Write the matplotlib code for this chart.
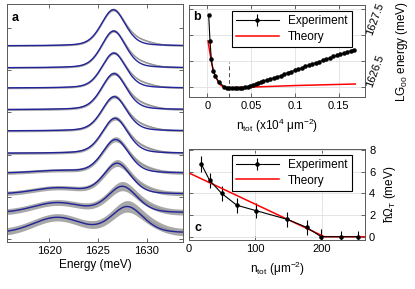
import numpy as np
import matplotlib
matplotlib.use("Agg")
from matplotlib import pyplot as plt

plt.rcParams["font.family"] = ["Liberation Sans", "DejaVu Sans"]
plt.rcParams["mathtext.default"] = "regular"
plt.rcParams["font.size"] = 8

# ---- panel a: spectra (fit parameters), top to bottom ----
a_centre = [1626.57, 1626.6, 1626.62, 1626.64, 1626.67, 1626.74, 1626.8, 1626.97, 1627.5, 1628.0]
a_height = [1.0, 1.02, 0.97, 1.0, 0.95, 0.97, 0.93, 0.85, 0.73, 0.73]
a_width = [2.9, 2.9, 2.9, 3.0, 3.0, 3.1, 3.2, 3.3, 3.6, 3.9]
a_offset = [5.44, 4.83, 4.27, 3.67, 3.08, 2.46, 1.91, 1.33, 0.81, 0.25]
a_bump = [0.0, 0.0, 0.0, 0.0, 0.0, 0.0, 0.06, 0.16, 0.27, 0.42]
a_noise = [0.025, 0.025, 0.025, 0.03, 0.03, 0.035, 0.045, 0.06, 0.08, 0.1]
bump_centre = 1620.8

# ---- panel b ----
b_n = [0.0015, 0.003, 0.0045, 0.0065, 0.009, 0.013, 0.019, 0.022, 0.025, 0.028,
       0.031, 0.034, 0.037, 0.040, 0.043, 0.046, 0.049, 0.052, 0.055, 0.058,
       0.061, 0.064, 0.068, 0.072, 0.076, 0.080, 0.084, 0.088, 0.092, 0.096,
       0.100, 0.104, 0.108, 0.112, 0.116, 0.120, 0.124, 0.128, 0.132, 0.136,
       0.140, 0.144, 0.148, 0.152, 0.156, 0.160, 0.164, 0.167]
b_E = [1627.88, 1627.39, 1627.04, 1626.81, 1626.71, 1626.60, 1626.51, 1626.49, 1626.49, 1626.48,
       1626.49, 1626.48, 1626.49, 1626.49, 1626.50, 1626.51, 1626.53, 1626.55, 1626.56, 1626.58,
       1626.60, 1626.62, 1626.64, 1626.66, 1626.68, 1626.70, 1626.72, 1626.75, 1626.78, 1626.80,
       1626.82, 1626.85, 1626.87, 1626.90, 1626.92, 1626.95, 1626.97, 1626.99, 1627.02, 1627.04,
       1627.06, 1627.09, 1627.11, 1627.13, 1627.16, 1627.18, 1627.20, 1627.22]
b_th_n = [0.0007, 0.003, 0.005, 0.0075, 0.01, 0.0125, 0.015, 0.0175, 0.02, 0.025, 0.03, 0.05, 0.1, 0.169]
b_th_E = [1627.39, 1627.15, 1626.95, 1626.79, 1626.68, 1626.6, 1626.54, 1626.51, 1626.49,
          1626.49, 1626.49, 1626.5, 1626.53, 1626.56]
b_dash = 0.0245

# ---- panel c ----
c_n = [18.5, 31, 49, 72, 101, 148, 177, 199, 229, 254]
c_W = [6.7, 5.2, 4.0, 2.9, 2.4, 1.6, 0.87, 0.0, 0.0, 0.0]
c_err = [0.7, 0.7, 0.7, 0.7, 0.7, 0.7, 0.7, 0.7, 0.5, 0.5]
c_th_n = [0, 204, 265]
c_th_W = [5.87, 0.0, 0.0]

blue = "#23239a"
spine_c = "0.35"


def pvoigt(x, c, w, eta=0.3):
    lor = 1.0 / (1.0 + ((x - c) / (w / 2)) ** 2)
    gau = np.exp(-4 * np.log(2) * ((x - c) / w) ** 2)
    return eta * lor + (1 - eta) * gau


def style(ax):
    ax.tick_params(direction="in", length=3, width=0.6, color="0.3",
                   top=True, right=True, labelsize=8, pad=3)
    for s in ax.spines.values():
        s.set_color(spine_c)
        s.set_linewidth(0.7)


def add_legend(ax, h_exp, h_th):
    leg = ax.legend([h_exp, h_th], ["Experiment", "Theory"], loc="upper left",
                    bbox_to_anchor=(0.244, 0.935), fontsize=8.5, frameon=True,
                    fancybox=False, edgecolor="black", framealpha=1,
                    handlelength=3.6, borderpad=0.35, labelspacing=0.3, borderaxespad=0)
    leg.get_frame().set_linewidth(0.8)


fig = plt.figure(figsize=(4.15, 2.89), dpi=100)

# panel a
ax_a = fig.add_axes([0.0169, 0.1626, 0.424, 0.8235])
E = np.linspace(1615.7, 1633.7, 700)
for c, h, w, off, bump, nz in zip(a_centre, a_height, a_width, a_offset, a_bump, a_noise):
    fit = off + h * pvoigt(E, c, w) + bump * np.exp(-0.5 * ((E - bump_centre) / 2.4) ** 2)
    data = fit + 0.09 * h * np.exp(-0.5 * ((E - c - 2.8) / 1.2) ** 2)
    band = nz * (1 + 0.6 * pvoigt(E, c, w))
    ax_a.fill_between(E, data - band, data + band, color="#a8a8a8", lw=0)
    ax_a.plot(E, data, color="#8c8c8c", lw=0.5)
    ax_a.plot(E, fit, color=blue, lw=1.0)
ax_a.set_xlim(1615.7, 1633.7)
ax_a.set_ylim(0, 6.6)
ax_a.set_xticks([1620, 1625, 1630])
ax_a.set_yticks([0.08, 1.25, 2.42, 3.61, 4.78, 5.94])
ax_a.set_yticklabels([])
style(ax_a)
ax_a.set_xlabel("Energy (meV)", fontsize=8.5, labelpad=2)
ax_a.text(0.045, 0.94, "a", transform=ax_a.transAxes, fontsize=9, fontweight="bold",
          ha="center", va="center")

# panel b
ax_b = fig.add_axes([0.4554, 0.6644, 0.424, 0.3183])
ax_b.grid(True, color="0.88", lw=0.6)
ax_b.set_axisbelow(True)
ax_b.plot([b_dash, b_dash], [1626.31, 1626.98], color="0.3", lw=0.7, ls=(0, (4, 3)))
h_exp = ax_b.errorbar(b_n, b_E, yerr=0.01, color="black", lw=0.8, marker=".", ms=4.5,
                      elinewidth=0.8, capsize=0)
h_th, = ax_b.plot(b_th_n, b_th_E, color="red", lw=1.1)
ax_b.set_xlim(-0.021, 0.18)
ax_b.set_ylim(1626.31, 1628.08)
ax_b.set_xticks([0, 0.05, 0.1, 0.15])
ax_b.set_xticklabels(["0", "0.05", "0.1", "0.15"])
ax_b.set_yticks([1626.5, 1627.0, 1627.5, 1628.0])
ax_b.set_yticklabels(["1626.5", "", "1627.5", ""])
style(ax_b)
ax_b.yaxis.tick_right()
ax_b.tick_params(axis="y", left=True, right=True)
for t in ax_b.get_yticklabels():
    t.set_rotation(70)
    t.set_rotation_mode("anchor")
    t.set_ha("left")
    t.set_va("center")
ax_b.yaxis.set_label_position("right")
ax_b.set_ylabel("LG$_{00}$ energy (meV)", fontsize=8.5, rotation=90, labelpad=6)
ax_b.set_xlabel("n$_{tot}$ (x10$^4$ μm$^{-2}$)", fontsize=8.5, labelpad=4)
ax_b.text(0.044, 0.87, "b", transform=ax_b.transAxes, fontsize=9, fontweight="bold",
          ha="center", va="center")
add_legend(ax_b, h_exp, h_th)

# panel c
ax_c = fig.add_axes([0.4554, 0.1696, 0.424, 0.3149])
ax_c.grid(True, color="0.88", lw=0.6)
ax_c.set_axisbelow(True)
h_exp = ax_c.errorbar(c_n, c_W, yerr=c_err, color="black", lw=0.8, marker=".", ms=4.5,
                      elinewidth=0.8, capsize=0)
h_th, = ax_c.plot(c_th_n, c_th_W, color="red", lw=1.1)
ax_c.set_xlim(0, 265)
ax_c.set_ylim(-0.3, 8.08)
ax_c.set_xticks([0, 100, 200])
ax_c.set_yticks([0, 2, 4, 6, 8])
style(ax_c)
ax_c.yaxis.tick_right()
ax_c.tick_params(axis="y", left=True, right=True)
ax_c.yaxis.set_label_position("right")
ax_c.set_ylabel("ħΩ$_T$ (meV)", fontsize=8.5, rotation=90, labelpad=5)
ax_c.set_xlabel("n$_{tot}$ (μm$^{-2}$)", fontsize=8.5, labelpad=4)
ax_c.text(0.05, 0.13, "c", transform=ax_c.transAxes, fontsize=9, fontweight="bold",
          ha="center", va="center")
add_legend(ax_c, h_exp, h_th)

fig.savefig("out.png", dpi=100)
